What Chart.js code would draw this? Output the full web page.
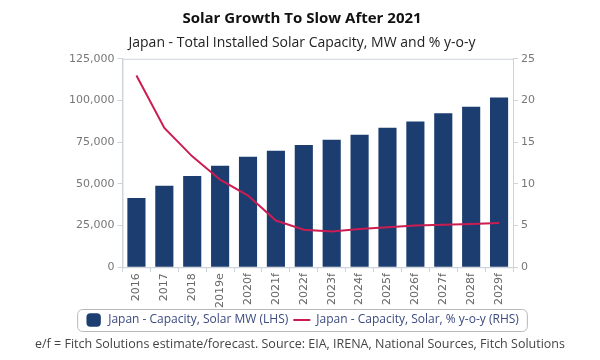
<!DOCTYPE html>
<html lang="en">
<head>
  <meta charset="UTF-8">
  <title>Solar Growth To Slow After 2021</title>
  <script src="https://cdn.jsdelivr.net/npm/chart.js"></script>
  <style>
    html, body { margin: 0; padding: 0; background: #fff; }
    .wrap { position: relative; width: 600px; height: 360px; }
    .note {
      position: absolute; left: 0; width: 600px; top: 335px;
      text-align: center; font: 12.5px "Open Sans", sans-serif; color: #444;
    }
  </style>
</head>
<body>
  <div class="wrap">
    <canvas id="solarChart" width="600" height="344"></canvas>
    <div class="note">e/f = Fitch Solutions estimate/forecast. Source: EIA, IRENA, National Sources, Fitch Solutions</div>
  </div>

  <script>
    const years = ['2016', '2017', '2018', '2019e', '2020f', '2021f', '2022f',
                   '2023f', '2024f', '2025f', '2026f', '2027f', '2028f', '2029f'];
    const capacityMW = [41500, 48800, 54700, 60800, 66300, 69800, 73300,
                        76400, 79500, 83700, 87400, 92300, 96300, 101800];
    const growthPct = [23.0, 16.7, 13.3, 10.5, 8.6, 5.6, 4.5,
                       4.3, 4.6, 4.8, 5.0, 5.1, 5.2, 5.3];
    const leftTicks = [0, 25000, 50000, 75000, 100000, 125000];
    const rightTicks = [0, 5, 10, 15, 20, 25];

    const navy = '#1b3d70';
    const crimson = '#cc1d52';
    const tickFont = { family: 'DejaVu Sans', size: 11 };

    // frame around plot area + border round the legend
    const decor = {
      id: 'decor',
      beforeDatasetsDraw(chart) {
        const { ctx, chartArea: a } = chart;
        ctx.save();
        ctx.strokeStyle = '#cfd3da';
        ctx.lineWidth = 1;
        ctx.strokeRect(a.left + 0.5, a.top + 0.5, a.right - a.left, a.bottom - a.top);
        ctx.restore();
      },
      afterDraw(chart) {
        const boxes = chart.legend.legendHitBoxes;
        if (!boxes || !boxes.length) return;
        const x0 = Math.min(...boxes.map(b => b.left)) - 8;
        const x1 = Math.max(...boxes.map(b => b.left + b.width)) + 8;
        const y0 = Math.min(...boxes.map(b => b.top)) - 5;
        const y1 = Math.max(...boxes.map(b => b.top + b.height)) + 5;
        const ctx = chart.ctx;
        ctx.save();
        ctx.strokeStyle = '#b8b8b8';
        ctx.lineWidth = 1;
        ctx.beginPath();
        ctx.roundRect(x0 + 0.5, y0 + 0.5, x1 - x0, y1 - y0, 5);
        ctx.stroke();
        ctx.restore();
      }
    };

    new Chart(document.getElementById('solarChart'), {
      type: 'bar',
      data: {
        labels: years,
        datasets: [
          {
            type: 'line',
            label: 'Japan - Capacity, Solar, % y-o-y (RHS)',
            data: growthPct,
            yAxisID: 'yR',
            borderColor: crimson,
            backgroundColor: crimson,
            borderWidth: 2,
            pointRadius: 0,
            tension: 0,
            pointStyle: 'line',
            order: 0
          },
          {
            label: 'Japan - Capacity, Solar MW (LHS)',
            data: capacityMW,
            yAxisID: 'yL',
            backgroundColor: navy,
            barPercentage: 0.65,
            categoryPercentage: 1,
            pointStyle: 'rectRounded',
            order: 1
          }
        ]
      },
      options: {
        responsive: false,
        animation: false,
        layout: { padding: { left: 66, right: 62, top: 0, bottom: 8 } },
        scales: {
          x: {
            grid: { drawOnChartArea: false, offset: true, tickLength: 5, color: '#cfd3da' },
            border: { color: '#cfd3da' },
            ticks: { font: tickFont, color: '#666', maxRotation: 90, minRotation: 90, padding: 1 }
          },
          yL: {
            position: 'left',
            min: 0, max: 125000,
            afterBuildTicks: axis => { axis.ticks = leftTicks.map(v => ({ value: v })); },
            grid: { drawOnChartArea: false, tickLength: 5, color: '#cfd3da' },
            border: { color: '#cfd3da' },
            ticks: { font: tickFont, color: '#777', padding: 3,
                     callback: v => v.toLocaleString('en-US') }
          },
          yR: {
            position: 'right',
            min: 0, max: 25,
            afterBuildTicks: axis => { axis.ticks = rightTicks.map(v => ({ value: v })); },
            grid: { drawOnChartArea: false, tickLength: 5, color: '#cfd3da' },
            border: { color: '#cfd3da' },
            ticks: { font: tickFont, color: '#777', padding: 3 }
          }
        },
        plugins: {
          title: {
            display: true,
            text: 'Solar Growth To Slow After 2021',
            font: { family: 'Open Sans', size: 15, weight: 'bold' },
            color: '#111',
            padding: { top: 10, bottom: 7 }
          },
          subtitle: {
            display: true,
            text: 'Japan - Total Installed Solar Capacity, MW and % y-o-y',
            font: { family: 'Open Sans', size: 14 },
            color: '#222',
            padding: { bottom: 7 }
          },
          legend: {
            position: 'bottom',
            reverse: true,
            labels: {
              usePointStyle: true,
              pointStyleWidth: 17,
              boxHeight: 11,
              font: { family: 'Open Sans', size: 12 },
              color: '#3b4a80',
              padding: 5
            }
          },
          tooltip: { enabled: false }
        }
      },
      plugins: [decor]
    });
  </script>
</body>
</html>
